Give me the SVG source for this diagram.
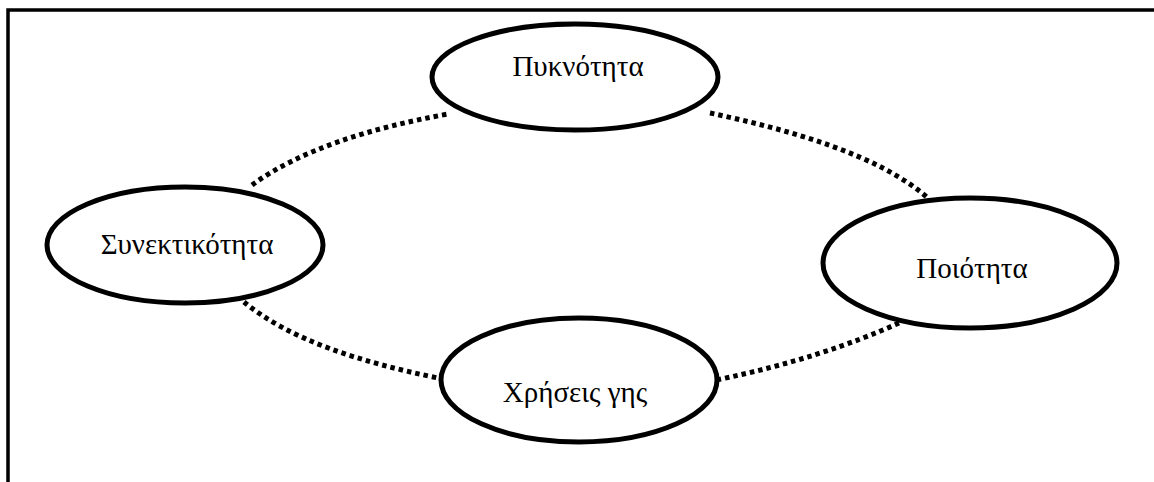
<svg xmlns="http://www.w3.org/2000/svg" width="1154" height="482" viewBox="0 0 1154 482">
<style>
.node ellipse{fill:#fff;stroke:#000;stroke-width:5}
.node text{font-family:"Liberation Serif","DejaVu Serif",serif;font-size:29px;fill:#000;text-anchor:middle}
#connectors path{fill:none;stroke:#000;stroke-width:5;stroke-dasharray:4.5 4}
</style>
<rect width="1154" height="482" fill="#fff"/>
<path d="M8,482 V10 H1154" fill="none" stroke="#000" stroke-width="3.5"/>
<g id="connectors">
<path d="M252,185 C300,150 370,128 448,114"/>
<path d="M710,113 C790,130 880,155 929,199"/>
<path d="M899,323 C850,345 790,365 716,380"/>
<path d="M244,302 C290,340 360,362 438,378"/>
</g>
<g id="n-pyknotita" class="node">
<ellipse cx="575" cy="77" rx="143" ry="53"/>
<text x="578" y="76">Πυκνότητα</text>
</g>
<g id="n-synektikotita" class="node">
<ellipse cx="185" cy="245" rx="138" ry="58"/>
<text x="187" y="254">Συνεκτικότητα</text>
</g>
<g id="n-poiotita" class="node">
<ellipse cx="970" cy="263" rx="147" ry="65"/>
<text x="972" y="278">Ποιότητα</text>
</g>
<g id="n-xriseis" class="node">
<ellipse cx="579" cy="380" rx="138" ry="62"/>
<text x="575" y="402">Χρήσεις γης</text>
</g>
</svg>
